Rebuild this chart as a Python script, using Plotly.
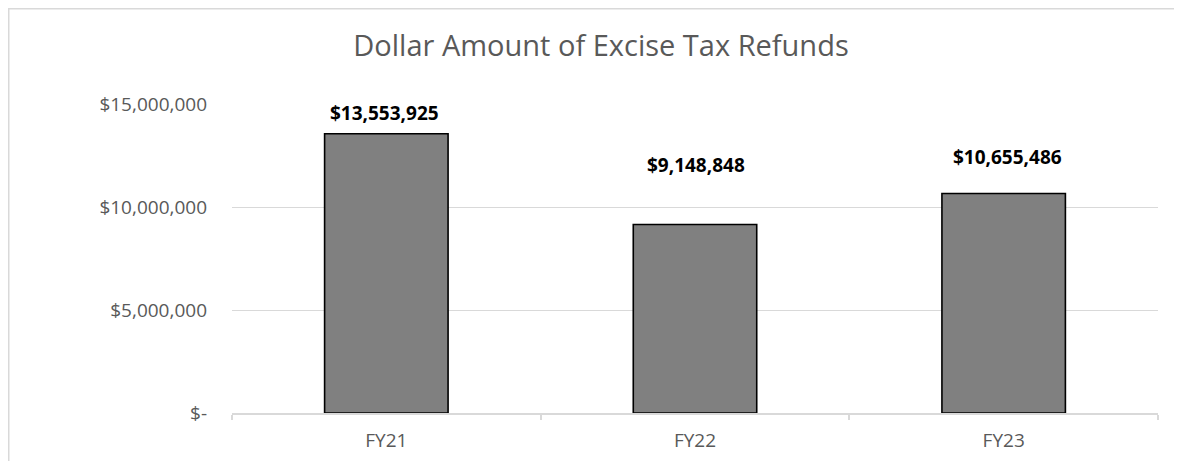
import plotly.graph_objects as go

categories = ["FY21", "FY22", "FY23"]
refunds = [13553925, 9148848, 10655486]
y_tick_vals = [0, 5000000, 10000000, 15000000]
y_tick_text = ["$-", "$5,000,000", "$10,000,000", "$15,000,000"]
title_text = "Dollar Amount of Excise Tax Refunds"

# label placement offsets (px) above each bar top, matching the hand-placed labels
label_yshift = [21, 60, 37]
label_xshift = [-2, 1, 4]

# page body has an 8px margin; size the figure so screen positions match
# and the page does not need scrollbars
OFF = 8
W, H = 1182 - 2 * OFF, 469 - 2 * OFF
ML = 232 - OFF
MT = 104 - OFF
MR = W - (1158 - OFF)
MB = H - (412.7 - OFF)

fig = go.Figure()
fig.add_trace(go.Bar(
    x=categories,
    y=refunds,
    marker=dict(color="#808080", line=dict(color="#000000", width=1.6)),
    hoverinfo="x+y",
))

for cat, val, ys, xs in zip(categories, refunds, label_yshift, label_xshift):
    fig.add_annotation(
        x=cat, y=val, text=f"<b>${val:,.0f}</b>",
        showarrow=False, yanchor="middle", xanchor="center",
        yshift=ys, xshift=xs,
        font=dict(family="Open Sans", size=19, color="#000000"),
    )

pw = W - ML - MR
ph = H - MT - MB
def px_x(p):
    return (p - ML) / pw
def px_y(p):
    return (H - MB - p) / ph

# chart-area border (extends past right/bottom edges as in the reference)
fig.add_shape(type="rect", xref="paper", yref="paper",
              x0=px_x(0.75), x1=px_x(1300), y0=px_y(600), y1=px_y(0.75),
              line=dict(color="#d9d9d9", width=1.5), fillcolor="rgba(0,0,0,0)",
              layer="below")

fig.update_layout(
    width=W, height=H,
    margin=dict(l=ML, r=MR, t=MT, b=MB, autoexpand=False),
    paper_bgcolor="white", plot_bgcolor="white",
    bargap=0.6,
    showlegend=False,
    title=dict(text=title_text, x=(601 - OFF) / W, xanchor="center",
               y=1 - (46 - OFF) / H, yanchor="middle",
               font=dict(family="Open Sans", size=29, color="#595959")),
    font=dict(family="Open Sans", color="#595959"),
)
fig.update_xaxes(
    showline=True, linecolor="#d9d9d9", linewidth=1.5,
    ticks="outside", tickson="boundaries", ticklen=5, tickcolor="#d9d9d9", tickwidth=1.5,
    tickfont=dict(family="Open Sans", size=19, color="#595959"),
    ticklabelstandoff=9,
    showgrid=False,
)
fig.update_yaxes(
    range=[0, 15000000],
    tickvals=y_tick_vals, ticktext=y_tick_text,
    showgrid=True, gridcolor="#d9d9d9", gridwidth=1.3,
    zeroline=False, showline=False,
    tickfont=dict(family="Open Sans", size=19, color="#595959"),
    ticklabelstandoff=24,
)

fig.write_html("out.html")
